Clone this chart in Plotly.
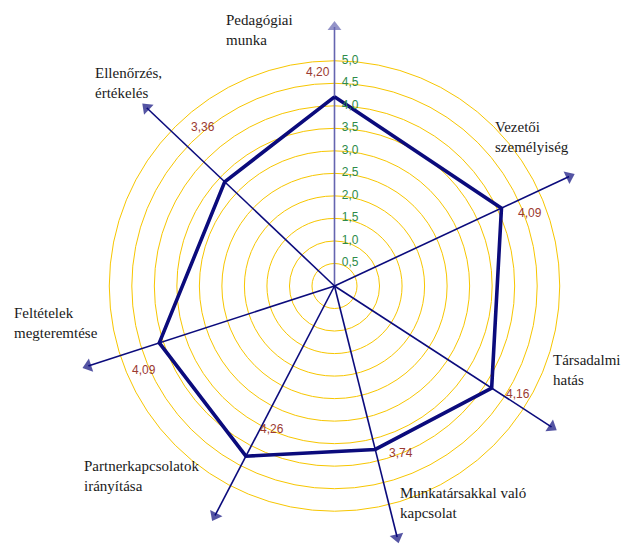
import plotly.graph_objects as go

categories = ["Pedagógiai<br>munka", "Vezetői<br>személyiség", "Társadalmi<br>hatás",
              "Munkatársakkal való<br>kapcsolat", "Partnerkapcsolatok<br>irányítása",
              "Feltételek<br>megteremtése", "Ellenőrzés,<br>értékelés"]
values = [4.20, 4.09, 4.16, 3.74, 4.26, 4.09, 3.36]
axis_angles = [90, 25, -33, -76, 242.5, 198, 136.5]
tick_vals = [0.5, 1.0, 1.5, 2.0, 2.5, 3.0, 3.5, 4.0, 4.5, 5.0]
tick_text = ["0,5", "1,0", "1,5", "2,0", "2,5", "3,0", "3,5", "4,0", "4,5", "5,0"]

W, H = 621, 545
R_MAX = 5.75
NAVY = "#0b0b7c"
SERIF = "Liberation Serif, Times New Roman, DejaVu Serif, serif"
SANS = "Liberation Sans, Arial, sans-serif"

fig = go.Figure()

# axes with arrowheads
for i, ang in enumerate(axis_angles):
    col = "#6565b0" if i == 0 else NAVY
    fig.add_trace(go.Scatterpolar(
        r=[0, R_MAX], theta=[ang, ang], mode="lines+markers",
        line=dict(color=col, width=1.6),
        marker=dict(symbol=["circle", "triangle-up"], size=[0, 12], color=col,
                    line=dict(width=0), angleref="previous"),
        cliponaxis=False, hoverinfo="skip", showlegend=False))

# data polygon
fig.add_trace(go.Scatterpolar(
    r=values + [values[0]], theta=axis_angles + [axis_angles[0]],
    mode="lines", line=dict(color=NAVY, width=3.6),
    hoverinfo="skip", showlegend=False))

# radial tick labels along the vertical axis
fig.add_trace(go.Scatterpolar(
    r=tick_vals, theta=[axis_angles[0]] * len(tick_vals), mode="markers+text",
    marker=dict(size=10, color="rgba(0,0,0,0)"),
    text=tick_text, textposition="middle right",
    textfont=dict(family=SANS, size=12, color="#2e8b4a"),
    cliponaxis=False, hoverinfo="skip", showlegend=False))

def px(x, y):
    return x / W, 1 - y / H

annotations = []
# category labels (top-left anchored)
label_pos = [(224, 10), (493, 117), (551, 350), (398, 483), (82, 456), (12, 303), (93, 63)]
for txt, (x, y) in zip(categories, label_pos):
    ax, ay = px(x, y)
    annotations.append(dict(x=ax, y=ay, xref="paper", yref="paper", text=txt,
                            showarrow=False, xanchor="left", yanchor="top", align="left",
                            font=dict(family=SERIF, size=15, color="#1a1a1a")))
# value labels
value_pos = [(318, 72), (530, 213), (518, 394), (401, 453), (272, 429), (144, 370), (203, 127)]
for v, (x, y) in zip(values, value_pos):
    ax, ay = px(x, y)
    annotations.append(dict(x=ax, y=ay, xref="paper", yref="paper",
                            text=f"{v:.2f}".replace(".", ","),
                            showarrow=False, xanchor="center", yanchor="middle",
                            font=dict(family=SANS, size=12, color="#9b3a32")))

fig.update_layout(
    width=W, height=H,
    margin=dict(l=0, r=0, t=0, b=0),
    paper_bgcolor="white",
    annotations=annotations,
    polar=dict(
        domain=dict(x=[75.5 / W, 593.5 / W], y=[0, 518 / H]),
        bgcolor="white",
        radialaxis=dict(range=[0, R_MAX], tickvals=tick_vals, showticklabels=False,
                        angle=90, showline=False, ticks="",
                        gridcolor="#f7c600", gridwidth=1),
        angularaxis=dict(thetaunit="degrees", rotation=0, direction="counterclockwise",
                         showgrid=False, showline=False, ticks="", showticklabels=False),
    ),
)

fig.write_html("out.html", config={"displayModeBar": False},
               post_script="document.body.style.margin='0';")
